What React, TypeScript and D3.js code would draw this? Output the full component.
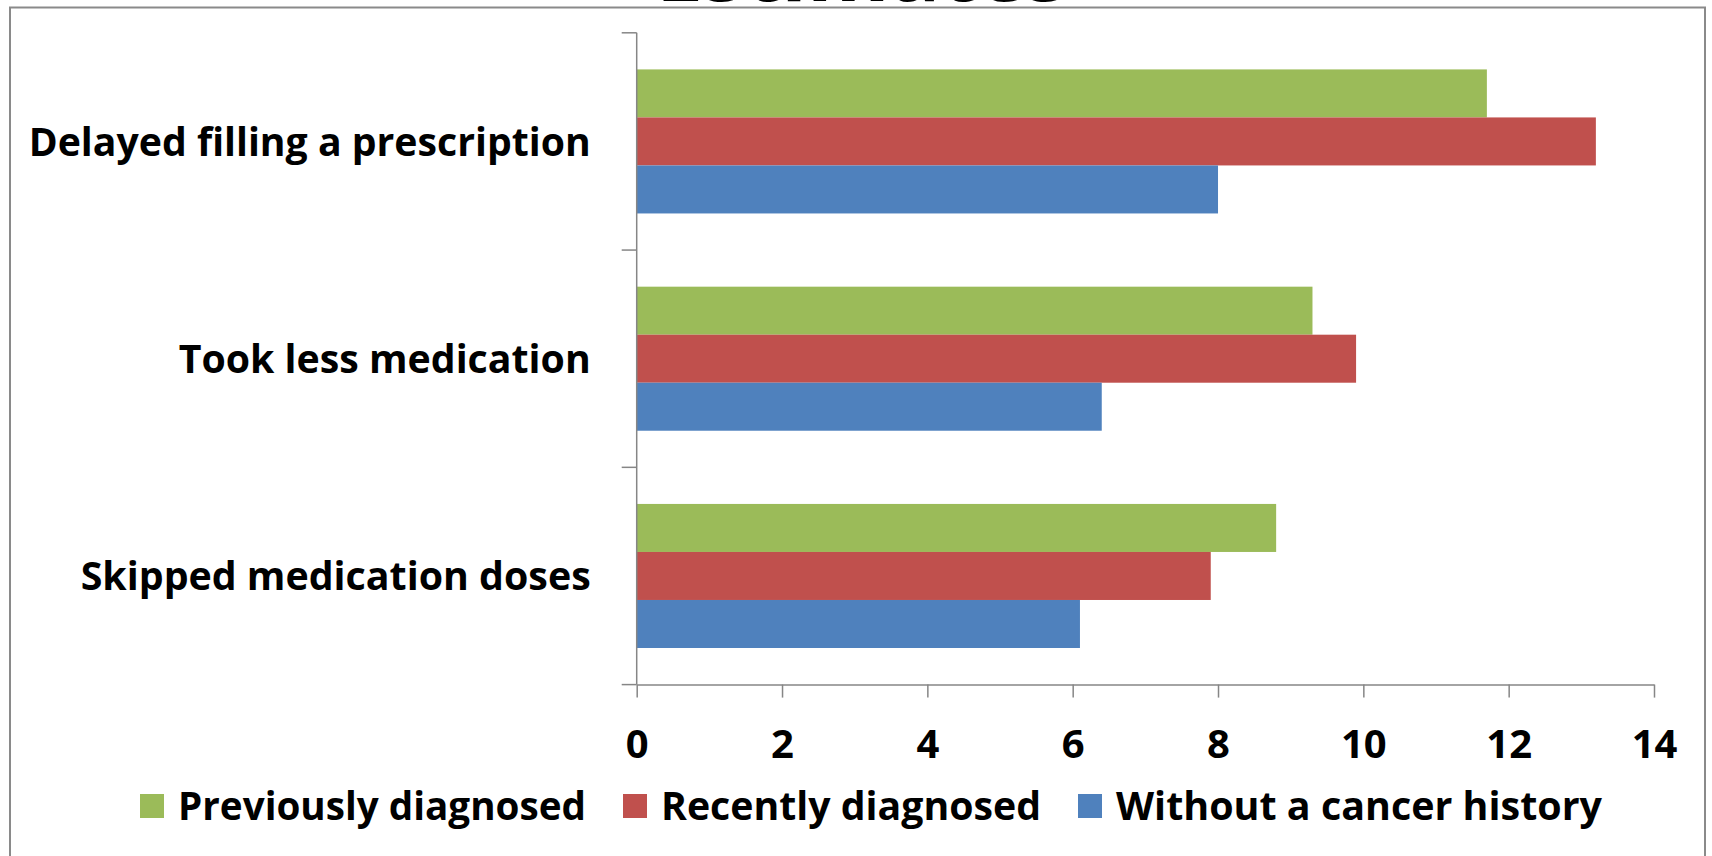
import React, { useEffect, useRef } from 'react';
import * as d3 from 'd3';

const categories = ['Delayed filling a prescription', 'Took less medication', 'Skipped medication doses'];
const seriesNames = ['Previously diagnosed', 'Recently diagnosed', 'Without a cancer history'];
const seriesColors = ['#9BBB59', '#C0504D', '#4F81BD'];
const previouslyDiagnosed = [11.7, 9.3, 8.8];
const recentlyDiagnosed = [13.2, 9.9, 7.9];
const withoutHistory = [8.0, 6.4, 6.1];
const xTicks = [0, 2, 4, 6, 8, 10, 12, 14];
const titleText = 'Estimates';

// measured text widths in the reference, so the labels occupy the same room
const categoryLabelWidths = [562, 412, 510];
const legendLabelWidths = [408, 380, 486];

function BarChart({ width = 1712, height = 856 }) {
  const svgRef = useRef<SVGSVGElement>(null);

  useEffect(() => {
    const svg = d3.select(svgRef.current);
    svg.selectAll('*').remove();

    const font = "'Open Sans', sans-serif";
    const axisColor = '#868686';
    const left = 636.7, right = 1654, top = 32.8, bottom = 684.6;
    const values = [previouslyDiagnosed, recentlyDiagnosed, withoutHistory];

    // Title (mostly above the visible area, as in the source image)
    svg.append('text')
      .attr('x', 862)
      .attr('y', 0.5)
      .attr('text-anchor', 'middle')
      .attr('font-family', font)
      .attr('font-weight', 700)
      .attr('font-size', 84)
      .attr('fill', '#000')
      .text(titleText);

    // Chart frame
    svg.append('rect')
      .attr('x', 10)
      .attr('y', 7.5)
      .attr('width', 1695)
      .attr('height', 900)
      .attr('fill', '#fff')
      .attr('stroke', '#8a8a8a')
      .attr('stroke-width', 2);

    // Scales
    const x = d3.scaleLinear().domain([0, 14]).range([left, right]);
    const y = d3.scaleBand<string>()
      .domain(categories)
      .range([top, bottom])
      .paddingInner(0.337)
      .paddingOuter(0.1685);
    const ySeries = d3.scaleBand<number>()
      .domain(d3.range(seriesNames.length))
      .range([0, y.bandwidth()]);

    // Bars
    const rows = categories.flatMap((c, i) => values.map((v, s) => ({ c, s, v: v[i] })));
    svg.append('g')
      .selectAll('rect')
      .data(rows)
      .join('rect')
      .attr('x', x(0))
      .attr('y', d => (y(d.c) as number) + (ySeries(d.s) as number))
      .attr('width', d => x(d.v) - x(0))
      .attr('height', ySeries.bandwidth())
      .attr('fill', d => seriesColors[d.s]);

    // X axis
    const xAxis = svg.append('g')
      .attr('transform', `translate(0,${bottom})`)
      .call(d3.axisBottom(x).tickValues(xTicks).tickSize(13).tickSizeOuter(0));
    xAxis.select('.domain').attr('stroke', axisColor).attr('stroke-width', 1.5);
    xAxis.selectAll('.tick line').attr('stroke', axisColor).attr('stroke-width', 1.5);
    xAxis.selectAll('.tick text')
      .attr('y', 73.4)
      .attr('dy', 0)
      .attr('font-family', font)
      .attr('font-weight', 700)
      .attr('font-size', 40)
      .attr('fill', '#000');

    // Y axis with ticks between categories
    const yAxis = svg.append('g');
    yAxis.append('line')
      .attr('x1', left).attr('x2', left)
      .attr('y1', top).attr('y2', bottom)
      .attr('stroke', axisColor).attr('stroke-width', 1.5);
    const boundaries = d3.range(categories.length + 1).map(i => y.range()[0] + i * y.step());
    yAxis.selectAll('line.tick')
      .data(boundaries)
      .join('line')
      .attr('class', 'tick')
      .attr('x1', left - 15).attr('x2', left)
      .attr('y1', d => d).attr('y2', d => d)
      .attr('stroke', axisColor).attr('stroke-width', 1.5);

    // Category labels
    svg.append('g')
      .selectAll('text')
      .data(categories)
      .join('text')
      .attr('x', left - 46)
      .attr('y', d => (y(d) as number) + y.bandwidth() / 2)
      .attr('dy', '0.36em')
      .attr('text-anchor', 'end')
      .attr('font-family', font)
      .attr('font-weight', 700)
      .attr('font-size', 40)
      .attr('textLength', (d, i) => categoryLabelWidths[i])
      .attr('lengthAdjust', 'spacingAndGlyphs')
      .attr('fill', '#000')
      .text(d => d);

    // Legend
    const legend = svg.append('g');
    let cursor = 140;
    seriesNames.forEach((name, i) => {
      legend.append('rect')
        .attr('x', cursor)
        .attr('y', 794)
        .attr('width', 24)
        .attr('height', 24)
        .attr('fill', seriesColors[i]);
      legend.append('text')
        .attr('x', cursor + 38)
        .attr('y', 820)
        .attr('font-family', font)
        .attr('font-weight', 700)
        .attr('font-size', 40)
        .attr('textLength', legendLabelWidths[i])
        .attr('lengthAdjust', 'spacingAndGlyphs')
        .attr('fill', '#000')
        .text(name);
      cursor += 38 + legendLabelWidths[i] + 37;
    });
  }, [width, height]);

  return (
    <svg
      ref={svgRef}
      width={width}
      height={height}
      style={{ position: 'absolute', left: 0, top: 0, display: 'block' }}
    />
  );
}

export default function App() {
  return <BarChart />;
}
